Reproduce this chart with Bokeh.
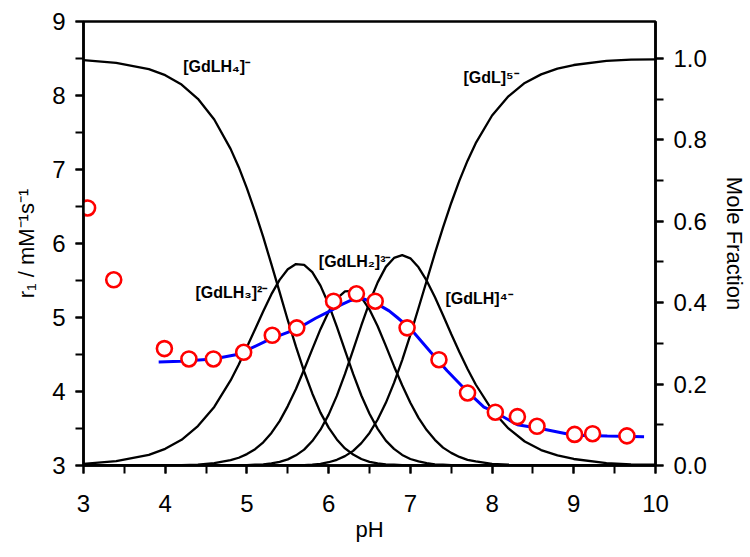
from bokeh.plotting import figure
from bokeh.models import Range1d, LinearAxis, SingleIntervalTicker, PrintfTickFormatter, Label, ColumnDataSource
from bokeh.embed import file_html
from bokeh.resources import INLINE

# ---- measured relaxivity data (red circles) ----
ph_meas = [3.05, 3.37, 3.99, 4.29, 4.59, 4.96, 5.31, 5.61, 6.06, 6.34, 6.57, 6.96,
           7.35, 7.70, 8.04, 8.31, 8.55, 9.01, 9.23, 9.65]
r1_meas = [6.48, 5.51, 4.58, 4.44, 4.44, 4.53, 4.76, 4.86, 5.22, 5.32, 5.22, 4.86,
           4.43, 3.98, 3.72, 3.66, 3.53, 3.42, 3.43, 3.40]

# ---- fitted relaxivity curve (blue line) ----
ph_fit = [3.92, 4.19, 4.59, 4.88, 5.04, 5.29, 5.62, 5.84, 6.02, 6.15, 6.27, 6.35, 6.43,
          6.53, 6.63, 6.74, 6.84, 7.00, 7.25, 7.45, 7.66, 7.90, 8.02, 8.31, 8.59, 9.00,
          9.41, 9.86]
r1_fit = [4.40, 4.41, 4.44, 4.50, 4.58, 4.71, 4.85, 4.99, 5.09, 5.17, 5.23, 5.26, 5.25,
          5.21, 5.16, 5.09, 5.00, 4.85, 4.53, 4.28, 4.04, 3.79, 3.73, 3.55, 3.50, 3.41,
          3.40, 3.39]

# ---- species distribution (mole fraction) ----
ph_spec = [3.0, 3.4, 3.8, 4.0, 4.2, 4.4, 4.6, 4.8, 4.9, 5.0, 5.1, 5.2, 5.3, 5.4, 5.5,
           5.6, 5.7, 5.8, 5.9, 6.0, 6.1, 6.2, 6.3, 6.4, 6.5, 6.6, 6.7, 6.8, 6.9, 7.0,
           7.1, 7.2, 7.3, 7.4, 7.5, 7.6, 7.7, 7.8, 8.0, 8.2, 8.4, 8.6, 8.8, 9.0, 9.4,
           9.7, 10.0]
f_gdlh4 = [0.996, 0.989, 0.974, 0.959, 0.936, 0.901, 0.850, 0.778, 0.733, 0.681, 0.623,
           0.561, 0.494, 0.426, 0.357, 0.292, 0.231, 0.177, 0.130, 0.093, 0.064, 0.042,
           0.027, 0.016, 0.009, 0.005, 0.003, 0.002, 0.001, 0.000, 0.000, 0.000, 0.000,
           0.000, 0.000, 0.000, 0.000, 0.000, 0.000, 0.000, 0.000, 0.000, 0.000, 0.000,
           0.000, 0.000, 0.000]
f_gdlh3 = [0.004, 0.011, 0.026, 0.041, 0.063, 0.097, 0.144, 0.209, 0.248, 0.291, 0.335,
           0.379, 0.421, 0.456, 0.482, 0.495, 0.493, 0.475, 0.442, 0.396, 0.341, 0.283,
           0.225, 0.172, 0.127, 0.090, 0.061, 0.041, 0.026, 0.016, 0.010, 0.006, 0.003,
           0.002, 0.001, 0.001, 0.000, 0.000, 0.000, 0.000, 0.000, 0.000, 0.000, 0.000,
           0.000, 0.000, 0.000]
f_gdlh2 = [0.000, 0.000, 0.000, 0.000, 0.001, 0.002, 0.006, 0.013, 0.019, 0.028, 0.040,
           0.057, 0.080, 0.109, 0.146, 0.188, 0.236, 0.286, 0.335, 0.378, 0.410, 0.428,
           0.429, 0.413, 0.383, 0.342, 0.294, 0.244, 0.197, 0.154, 0.117, 0.087, 0.063,
           0.044, 0.031, 0.021, 0.014, 0.010, 0.004, 0.002, 0.001, 0.000, 0.000, 0.000,
           0.000, 0.000, 0.000]
f_gdlh = [0.000, 0.000, 0.000, 0.000, 0.000, 0.000, 0.000, 0.000, 0.001, 0.001, 0.002,
          0.003, 0.005, 0.009, 0.015, 0.025, 0.039, 0.060, 0.088, 0.125, 0.171, 0.225,
          0.284, 0.344, 0.401, 0.450, 0.488, 0.510, 0.517, 0.509, 0.487, 0.454, 0.414,
          0.369, 0.323, 0.279, 0.237, 0.199, 0.136, 0.091, 0.059, 0.038, 0.025, 0.016,
          0.006, 0.003, 0.002]
f_gdl = [0.000, 0.000, 0.000, 0.000, 0.000, 0.000, 0.000, 0.000, 0.000, 0.000, 0.000,
         0.000, 0.000, 0.000, 0.000, 0.001, 0.001, 0.002, 0.004, 0.008, 0.014, 0.023,
         0.036, 0.055, 0.080, 0.113, 0.154, 0.203, 0.259, 0.321, 0.387, 0.454, 0.521,
         0.585, 0.645, 0.700, 0.749, 0.792, 0.860, 0.907, 0.940, 0.961, 0.975, 0.984,
         0.994, 0.997, 0.998]

species_labels = ["[GdLH\u2084]\u207b", "[GdLH\u2083]\u00b2\u207b", "[GdLH\u2082]\u00b3\u207b",
                  "[GdLH]\u2074\u207b", "[GdL]\u2075\u207b"]
label_x = [4.22, 4.37, 5.88, 7.43, 7.65]
label_y = [8.39, 5.34, 5.76, 5.26, 8.24]

FONT = "Liberation Sans"

p = figure(frame_width=572, frame_height=444,
           x_range=Range1d(3, 10), y_range=Range1d(3, 9),
           output_backend="svg", toolbar_location=None,
           min_border_left=83, min_border_top=21, min_border_right=85, min_border_bottom=88,
           background_fill_color="white", border_fill_color="white")
p.extra_y_ranges = {"mf": Range1d(0, 1.0909)}
p.xgrid.visible = False
p.ygrid.visible = False
p.outline_line_color = "black"
p.outline_line_width = 2.5
p.outline_line_alpha = 1.0

p.xaxis.ticker = SingleIntervalTicker(interval=1, num_minor_ticks=2)
p.yaxis.ticker = SingleIntervalTicker(interval=1, num_minor_ticks=2)
right_axis = LinearAxis(y_range_name="mf",
                        ticker=SingleIntervalTicker(interval=0.2, num_minor_ticks=2),
                        formatter=PrintfTickFormatter(format="%.1f"))
p.add_layout(right_axis, "right")

p.xaxis.axis_label = "pH"
p.yaxis.axis_label = "r\u2081 / mM\u207b\u00b9s\u207b\u00b9"
right_axis.axis_label = "Mole Fraction"
right_axis.axis_label_orientation = "vertical"

for ax in [p.xaxis[0], p.yaxis[0], right_axis]:
    ax.axis_line_width = 2.5
    ax.axis_line_color = "black"
    ax.major_tick_line_width = 2
    ax.minor_tick_line_width = 2
    ax.major_tick_line_color = "black"
    ax.minor_tick_line_color = "black"
    ax.major_tick_in = 0
    ax.major_tick_out = 8
    ax.minor_tick_in = 0
    ax.minor_tick_out = 8
    ax.major_label_text_font = FONT
    ax.major_label_text_font_size = "24px"
    ax.major_label_text_color = "black"
    ax.axis_label_text_font = FONT
    ax.axis_label_text_font_size = "22px"
    ax.axis_label_text_font_style = "normal"
    ax.axis_label_text_color = "black"

p.xaxis.major_label_standoff = 21
p.yaxis.major_label_standoff = 10
right_axis.major_label_standoff = 10
p.xaxis.axis_label_standoff = 2
p.yaxis.axis_label_standoff = 10
right_axis.axis_label_standoff = 12

spec_src = ColumnDataSource(dict(ph=ph_spec, a=f_gdlh4, b=f_gdlh3, c=f_gdlh2, d=f_gdlh, e=f_gdl))
for col in ["a", "b", "c", "d", "e"]:
    p.line("ph", col, source=spec_src, y_range_name="mf", line_color="black", line_width=2.3)

p.line(ph_fit, r1_fit, line_color="#0000ff", line_width=3)
p.scatter(ph_meas, r1_meas, size=15, marker="circle", line_color="#ff0000",
          line_width=2.6, fill_color="white")

for txt, lx, ly in zip(species_labels, label_x, label_y):
    p.add_layout(Label(x=lx, y=ly, text=txt, text_font=FONT, text_font_size="16px",
                       text_font_style="bold", text_baseline="middle", text_align="left",
                       text_color="black"))

open("out.html", "w").write(file_html(p, INLINE))
